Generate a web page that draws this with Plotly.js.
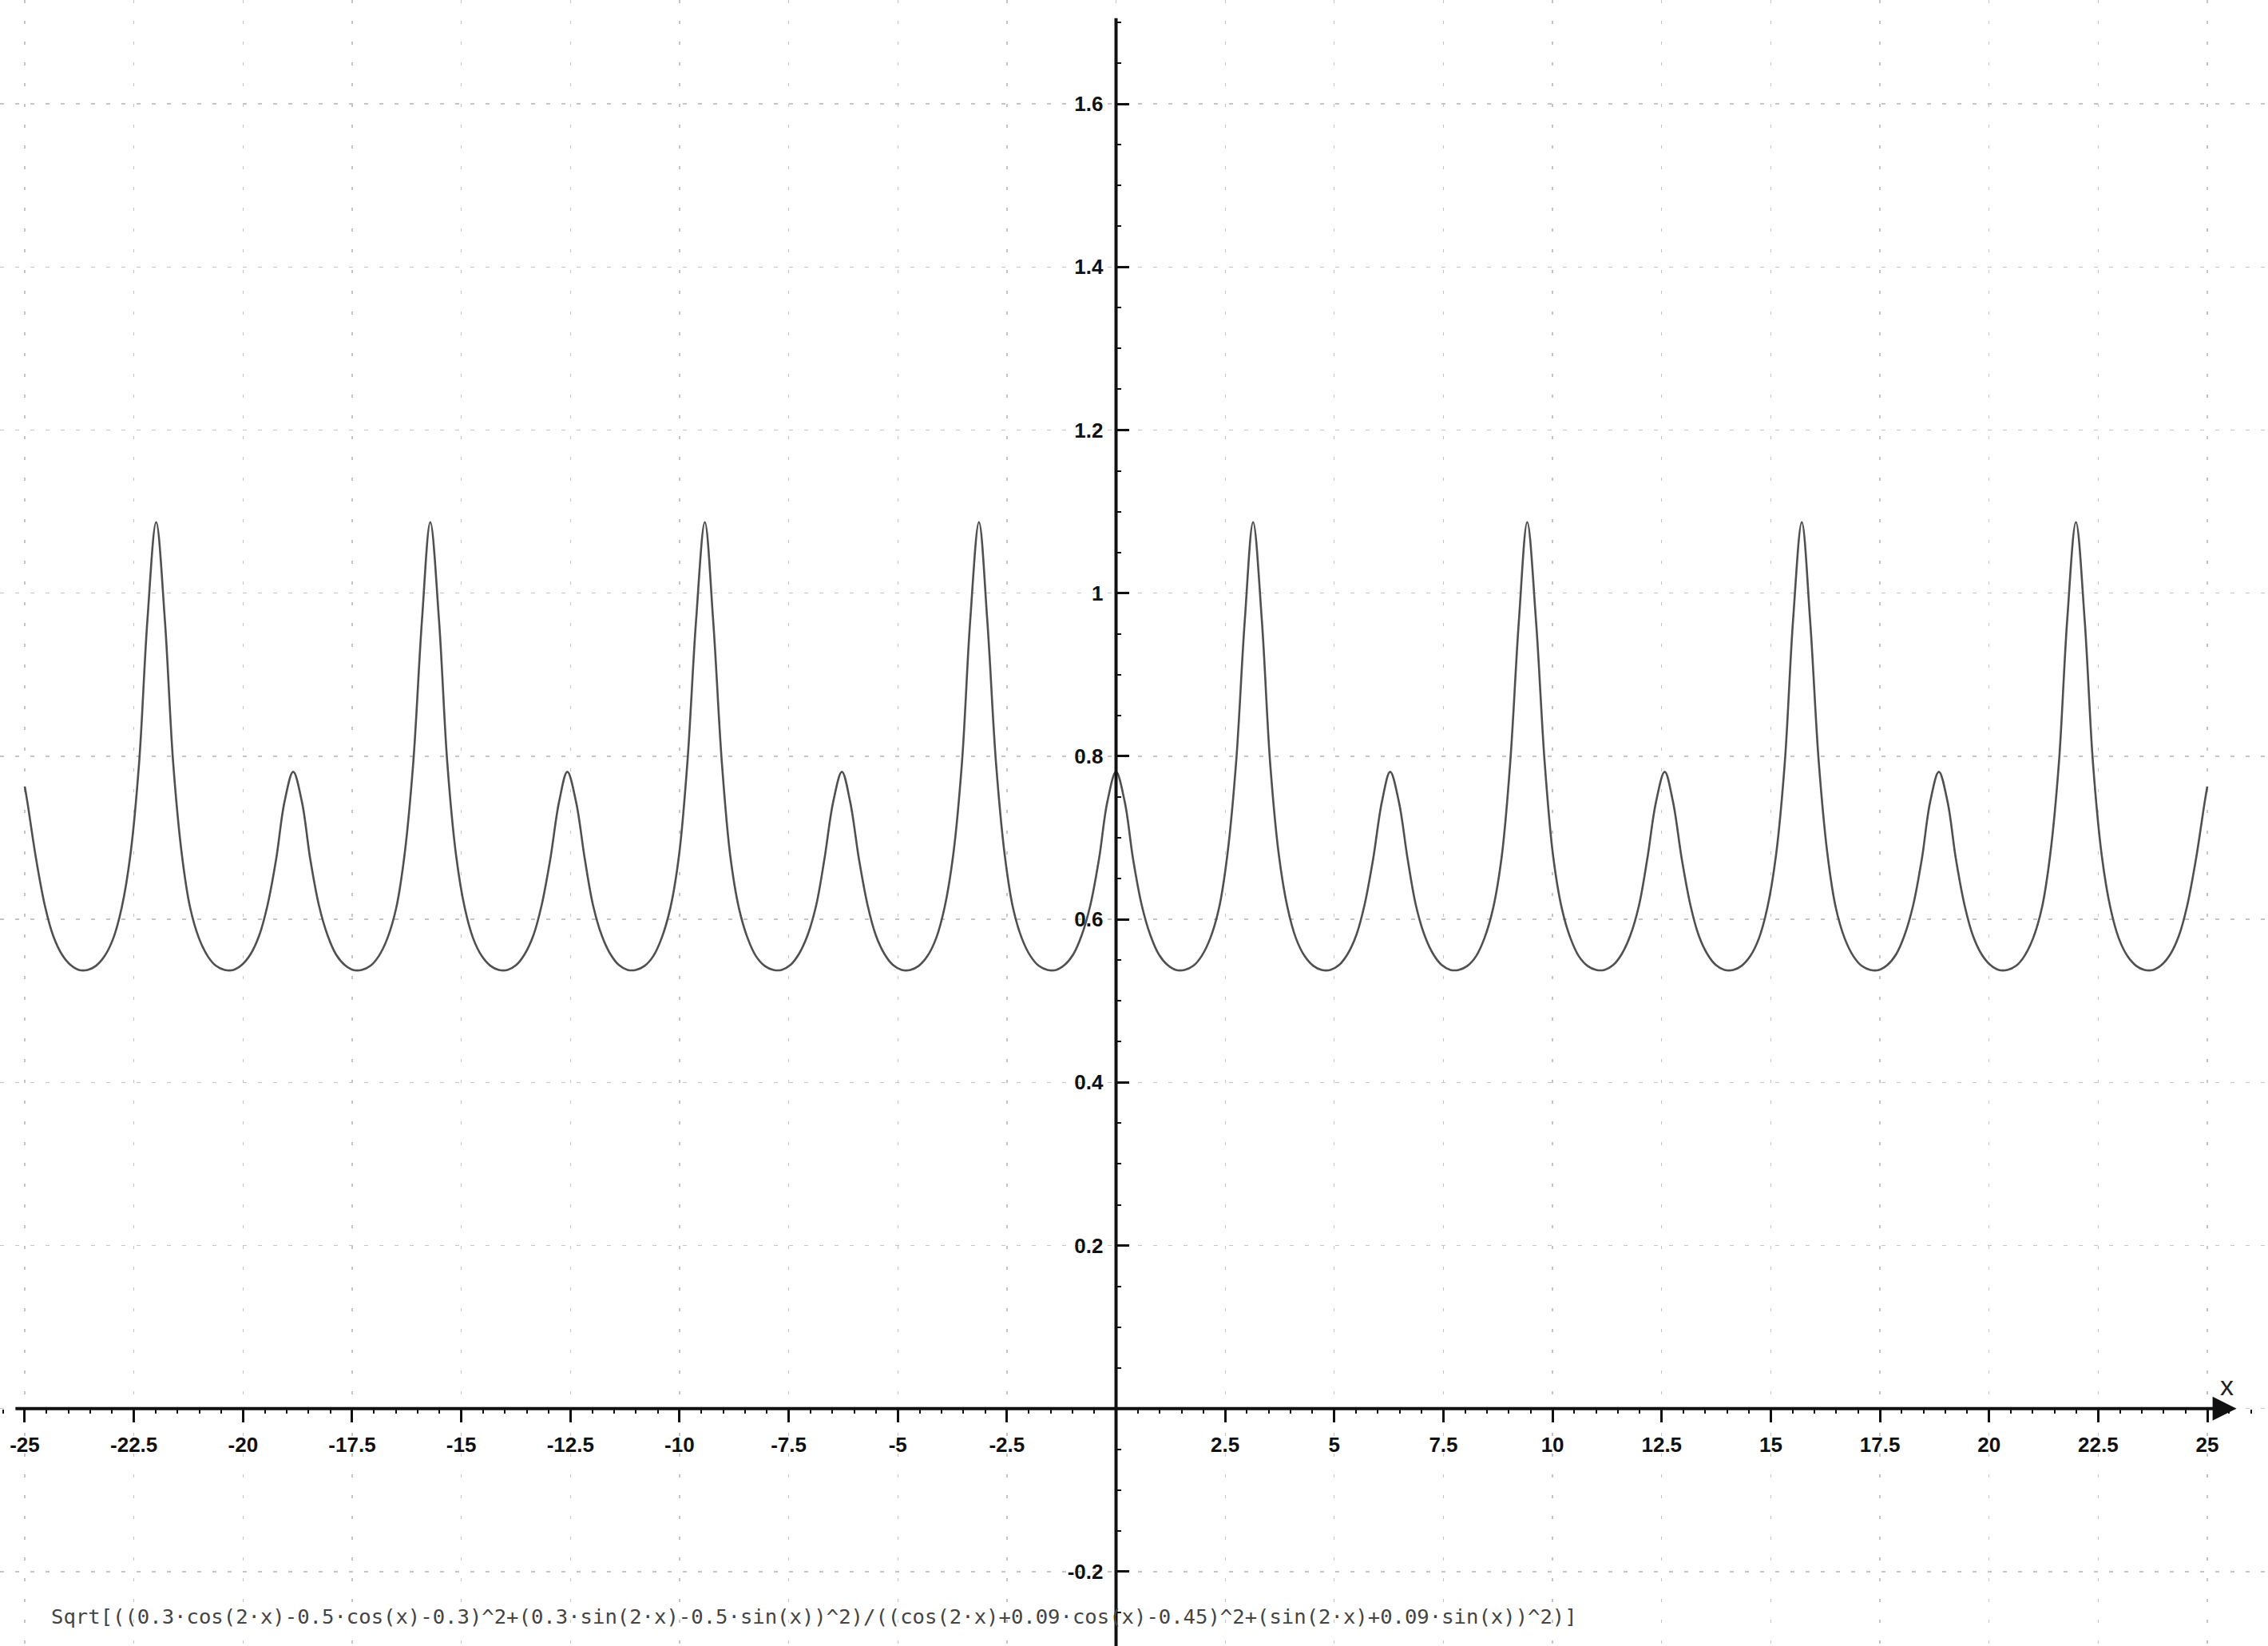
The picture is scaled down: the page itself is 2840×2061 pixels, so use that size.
<!DOCTYPE html>
<html>
<head>
<meta charset="utf-8">
<script src="https://cdn.plot.ly/plotly-3.0.1.min.js"></script>
<style>
html, body { margin: 0; padding: 0; background: #ffffff; }
#chart { width: 2840px; height: 2061px; }
</style>
</head>
<body>
<div id="chart"></div>
<script>
// ---- data ----
const xValues = [
  -25,
  -24.94, -24.74, -24.54, -24.35, -24.15, -23.95, -23.76, -23.56, -23.37, -23.17, -22.97, -22.78, -22.58, -22.38, -22.19, -21.99,
  -21.79, -21.60, -21.40, -21.21, -21.01, -20.81, -20.62, -20.42, -20.22, -20.03, -19.83, -19.63, -19.44, -19.24, -19.05, -18.85,
  -18.65, -18.46, -18.26, -18.06, -17.87, -17.67, -17.48, -17.28, -17.08, -16.89, -16.69, -16.49, -16.30, -16.10, -15.90, -15.71,
  -15.51, -15.32, -15.12, -14.92, -14.73, -14.53, -14.33, -14.14, -13.94, -13.74, -13.55, -13.35, -13.16, -12.96, -12.76, -12.57,
  -12.37, -12.17, -11.98, -11.78, -11.58, -11.39, -11.19, -11.00, -10.80, -10.60, -10.41, -10.21, -10.01, -9.82, -9.62, -9.42,
  -9.23, -9.03, -8.84, -8.64, -8.44, -8.25, -8.05, -7.85, -7.66, -7.46, -7.27, -7.07, -6.87, -6.68, -6.48, -6.28,
  -6.09, -5.89, -5.69, -5.50, -5.30, -5.11, -4.91, -4.71, -4.52, -4.32, -4.12, -3.93, -3.73, -3.53, -3.34, -3.14,
  -2.95, -2.75, -2.55, -2.36, -2.16, -1.96, -1.77, -1.57, -1.37, -1.18, -0.98, -0.79, -0.59, -0.39, -0.20,
  0,
  0.20, 0.39, 0.59, 0.79, 0.98, 1.18, 1.37, 1.57, 1.77, 1.96, 2.16, 2.36, 2.55, 2.75, 2.95, 3.14,
  3.34, 3.53, 3.73, 3.93, 4.12, 4.32, 4.52, 4.71, 4.91, 5.11, 5.30, 5.50, 5.69, 5.89, 6.09, 6.28,
  6.48, 6.68, 6.87, 7.07, 7.27, 7.46, 7.66, 7.85, 8.05, 8.25, 8.44, 8.64, 8.84, 9.03, 9.23, 9.42,
  9.62, 9.82, 10.01, 10.21, 10.41, 10.60, 10.80, 11.00, 11.19, 11.39, 11.58, 11.78, 11.98, 12.17, 12.37, 12.57,
  12.76, 12.96, 13.16, 13.35, 13.55, 13.74, 13.94, 14.14, 14.33, 14.53, 14.73, 14.92, 15.12, 15.32, 15.51, 15.71,
  15.90, 16.10, 16.30, 16.49, 16.69, 16.89, 17.08, 17.28, 17.48, 17.67, 17.87, 18.06, 18.26, 18.46, 18.65, 18.85,
  19.05, 19.24, 19.44, 19.63, 19.83, 20.03, 20.22, 20.42, 20.62, 20.81, 21.01, 21.21, 21.40, 21.60, 21.79, 21.99,
  22.19, 22.38, 22.58, 22.78, 22.97, 23.17, 23.37, 23.56, 23.76, 23.95, 24.15, 24.35, 24.54, 24.74, 24.94,
  25
];

const yValues = [
  0.763,
  0.744, 0.674, 0.617, 0.580, 0.557, 0.544, 0.538, 0.538, 0.543, 0.555, 0.577, 0.614, 0.679, 0.792, 0.967, 1.087,
  0.967, 0.792, 0.679, 0.614, 0.577, 0.555, 0.543, 0.538, 0.538, 0.544, 0.557, 0.580, 0.617, 0.674, 0.744, 0.781,
  0.744, 0.674, 0.617, 0.580, 0.557, 0.544, 0.538, 0.538, 0.543, 0.555, 0.577, 0.614, 0.679, 0.792, 0.967, 1.087,
  0.967, 0.792, 0.679, 0.614, 0.577, 0.555, 0.543, 0.538, 0.538, 0.544, 0.557, 0.580, 0.617, 0.674, 0.744, 0.781,
  0.744, 0.674, 0.617, 0.580, 0.557, 0.544, 0.538, 0.538, 0.543, 0.555, 0.577, 0.614, 0.679, 0.792, 0.967, 1.087,
  0.967, 0.792, 0.679, 0.614, 0.577, 0.555, 0.543, 0.538, 0.538, 0.544, 0.557, 0.580, 0.617, 0.674, 0.744, 0.781,
  0.744, 0.674, 0.617, 0.580, 0.557, 0.544, 0.538, 0.538, 0.543, 0.555, 0.577, 0.614, 0.679, 0.792, 0.967, 1.087,
  0.967, 0.792, 0.679, 0.614, 0.577, 0.555, 0.543, 0.538, 0.538, 0.544, 0.557, 0.580, 0.617, 0.674, 0.744,
  0.781,
  0.744, 0.674, 0.617, 0.580, 0.557, 0.544, 0.538, 0.538, 0.543, 0.555, 0.577, 0.614, 0.679, 0.792, 0.967, 1.087,
  0.967, 0.792, 0.679, 0.614, 0.577, 0.555, 0.543, 0.538, 0.538, 0.544, 0.557, 0.580, 0.617, 0.674, 0.744, 0.781,
  0.744, 0.674, 0.617, 0.580, 0.557, 0.544, 0.538, 0.538, 0.543, 0.555, 0.577, 0.614, 0.679, 0.792, 0.967, 1.087,
  0.967, 0.792, 0.679, 0.614, 0.577, 0.555, 0.543, 0.538, 0.538, 0.544, 0.557, 0.580, 0.617, 0.674, 0.744, 0.781,
  0.744, 0.674, 0.617, 0.580, 0.557, 0.544, 0.538, 0.538, 0.543, 0.555, 0.577, 0.614, 0.679, 0.792, 0.967, 1.087,
  0.967, 0.792, 0.679, 0.614, 0.577, 0.555, 0.543, 0.538, 0.538, 0.544, 0.557, 0.580, 0.617, 0.674, 0.744, 0.781,
  0.744, 0.674, 0.617, 0.580, 0.557, 0.544, 0.538, 0.538, 0.543, 0.555, 0.577, 0.614, 0.679, 0.792, 0.967, 1.087,
  0.967, 0.792, 0.679, 0.614, 0.577, 0.555, 0.543, 0.538, 0.538, 0.544, 0.557, 0.580, 0.617, 0.674, 0.744,
  0.763
];

const xTickValues = [-25, -22.5, -20, -17.5, -15, -12.5, -10, -7.5, -5, -2.5, 0, 2.5, 5, 7.5, 10, 12.5, 15, 17.5, 20, 22.5, 25];
const xTickLabels = ['-25', '-22.5', '-20', '-17.5', '-15', '-12.5', '-10', '-7.5', '-5', '-2.5', '', '2.5', '5', '7.5', '10', '12.5', '15', '17.5', '20', '22.5', '25'];
const yTickValues = [-0.2, 0, 0.2, 0.4, 0.6, 0.8, 1, 1.2, 1.4, 1.6];
const yTickLabels = ['-0.2', '', '0.2', '0.4', '0.6', '0.8', '1', '1.2', '1.4', '1.6'];
const axisVariableLabel = 'x';
const formulaText = 'Sqrt[((0.3·cos(2·x)-0.5·cos(x)-0.3)^2+(0.3·sin(2·x)-0.5·sin(x))^2)/((cos(2·x)+0.09·cos(x)-0.45)^2+(sin(2·x)+0.09·sin(x))^2)]';

// ---- layout settings ----
const X_RANGE = [-25.567, 26.390];
const Y_RANGE = [-0.2911, 1.7274];
const X_AXIS_START = -25.24;
const X_AXIS_TIP = 25.67;
const Y_AXIS_TOP = 1.705;

const tickFont = { family: '"Liberation Sans", Arial, sans-serif', size: 26, color: '#111111', weight: 'bold' };

const curve = {
  type: 'scatter',
  mode: 'lines',
  x: xValues,
  y: yValues,
  line: { color: '#505050', width: 2.6, shape: 'spline', smoothing: 1 },
  hoverinfo: 'skip',
  showlegend: false
};

const layout = {
  width: 2840,
  height: 2061,
  margin: { l: 0, r: 0, t: 0, b: 0, pad: 0 },
  paper_bgcolor: '#ffffff',
  plot_bgcolor: '#ffffff',
  showlegend: false,
  xaxis: {
    range: X_RANGE,
    anchor: 'free',
    position: (0 - Y_RANGE[0]) / (Y_RANGE[1] - Y_RANGE[0]),
    side: 'bottom',
    tickmode: 'array',
    tickvals: xTickValues,
    ticktext: xTickLabels,
    ticks: 'outside',
    ticklen: 16,
    tickwidth: 3,
    tickcolor: '#111111',
    minor: { dtick: 0.5, tick0: 0, ticks: 'outside', ticklen: 5, tickwidth: 2, tickcolor: '#111111', showgrid: false },
    showgrid: true,
    gridcolor: '#c4c4c4',
    gridwidth: 1.3,
    griddash: '4px,22px',
    zeroline: false,
    showline: false,
    tickfont: tickFont,
    ticklabelstandoff: 6
  },
  yaxis: {
    range: Y_RANGE,
    anchor: 'free',
    position: (0 - X_RANGE[0]) / (X_RANGE[1] - X_RANGE[0]),
    side: 'left',
    tickmode: 'array',
    tickvals: yTickValues,
    ticktext: yTickLabels,
    ticks: 'inside',
    ticklen: 15,
    tickwidth: 3,
    tickcolor: '#111111',
    minor: { dtick: 0.05, tick0: 0, ticks: 'inside', ticklen: 5, tickwidth: 2, tickcolor: '#111111', showgrid: false },
    showgrid: true,
    gridcolor: '#c4c4c4',
    gridwidth: 1.3,
    griddash: '5px,14px',
    zeroline: false,
    showline: false,
    tickfont: tickFont,
    ticklabelstandoff: 16
  },
  shapes: [
    { type: 'line', xref: 'x', yref: 'y', x0: 0, x1: 0, y0: Y_RANGE[0], y1: Y_AXIS_TOP,
      line: { color: '#111111', width: 4 } }
  ],
  annotations: [
    { xref: 'x', yref: 'y', axref: 'x', ayref: 'y', x: X_AXIS_TIP, y: 0, ax: X_AXIS_START, ay: 0,
      text: '', showarrow: true, arrowhead: 2, arrowsize: 1.5, arrowwidth: 4, arrowcolor: '#111111', standoff: 0 },
    { xref: 'x', yref: 'y', x: 25.44, y: 0.028, text: axisVariableLabel, showarrow: false,
      xanchor: 'center', yanchor: 'middle',
      font: { family: '"Liberation Sans", Arial, sans-serif', size: 34, color: '#222222' } },
    { xref: 'paper', yref: 'paper', x: 62 / 2840, y: 1 - 2024 / 2061, text: formulaText, showarrow: false,
      xanchor: 'left', yanchor: 'middle',
      font: { family: '"DejaVu Sans Mono", monospace', size: 25.6, color: '#444444' } }
  ]
};

Plotly.newPlot('chart', [curve], layout, { staticPlot: true, displayModeBar: false });
</script>
</body>
</html>
